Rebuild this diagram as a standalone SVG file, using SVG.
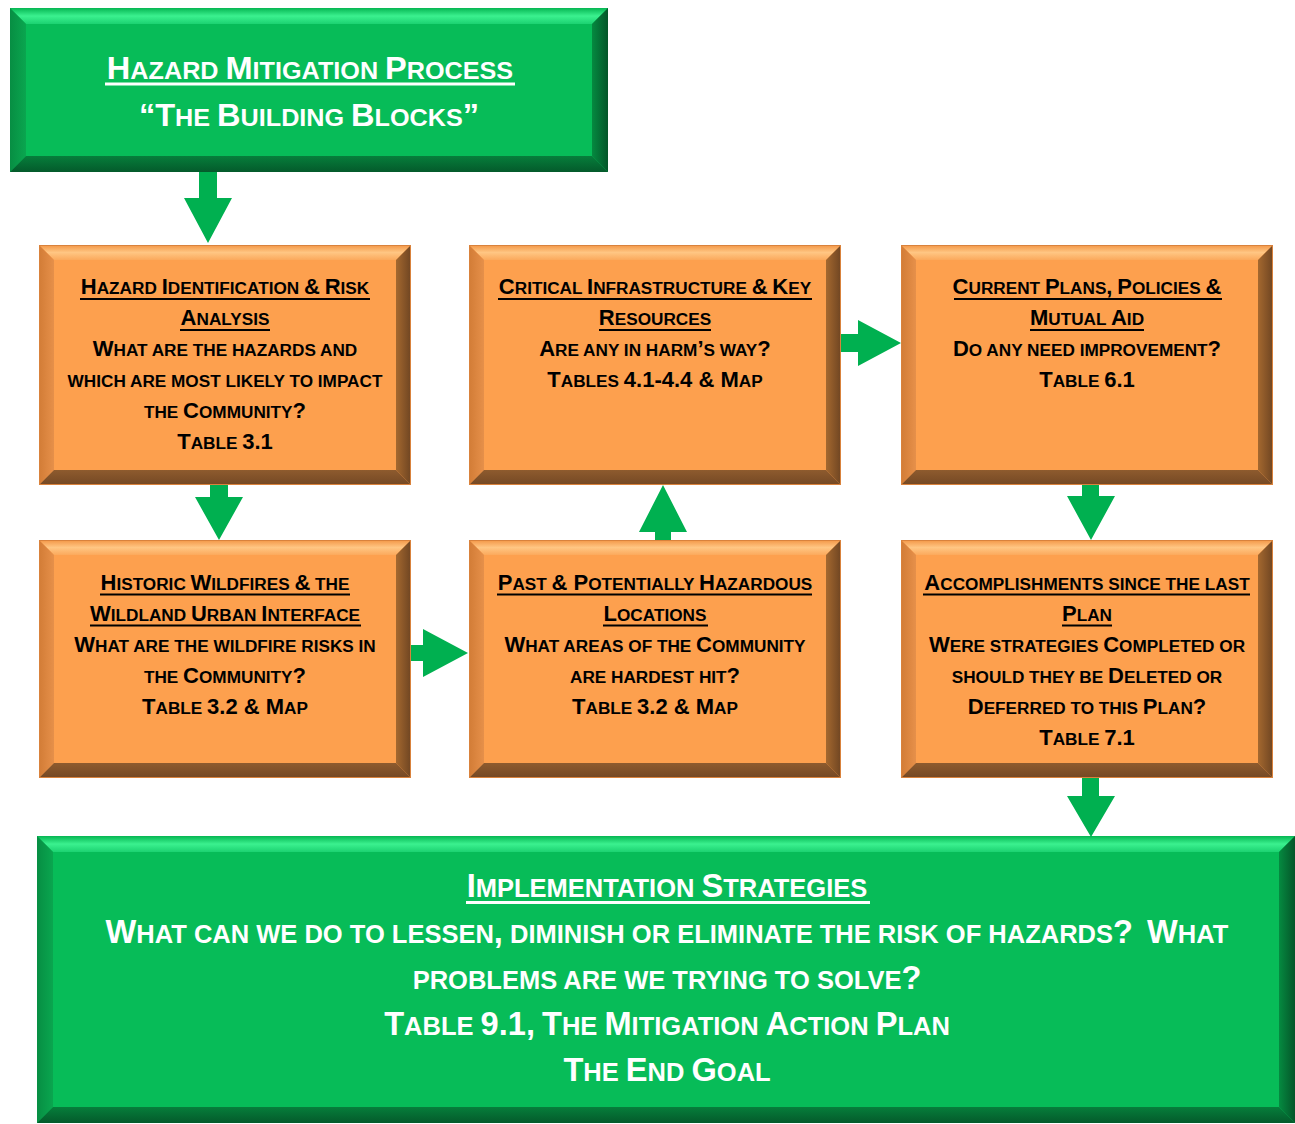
<svg xmlns="http://www.w3.org/2000/svg" width="1295" height="1124" viewBox="0 0 1295 1124">
<defs>
<linearGradient id="oTop" x1="0" y1="0" x2="0" y2="1"><stop offset="0" stop-color="#F39646"/><stop offset="0.5" stop-color="#FFC683"/><stop offset="1" stop-color="#FBA95C"/></linearGradient>
<linearGradient id="oRight" x1="0" y1="0" x2="1" y2="0"><stop offset="0" stop-color="#A4682F"/><stop offset="1" stop-color="#6F4522"/></linearGradient>
<linearGradient id="oBot" x1="0" y1="0" x2="0" y2="1"><stop offset="0" stop-color="#8E5B2E"/><stop offset="1" stop-color="#744824"/></linearGradient>
<linearGradient id="oLeft" x1="0" y1="0" x2="1" y2="0"><stop offset="0" stop-color="#D27C36"/><stop offset="1" stop-color="#E6904A"/></linearGradient>
<linearGradient id="gTop" x1="0" y1="0" x2="0" y2="1"><stop offset="0" stop-color="#06B653"/><stop offset="0.5" stop-color="#3BF18F"/><stop offset="1" stop-color="#1CD271"/></linearGradient>
<linearGradient id="gRight" x1="0" y1="0" x2="1" y2="0"><stop offset="0" stop-color="#058A40"/><stop offset="1" stop-color="#045529"/></linearGradient>
<linearGradient id="gBot" x1="0" y1="0" x2="0" y2="1"><stop offset="0" stop-color="#067E3B"/><stop offset="1" stop-color="#045A2B"/></linearGradient>
<linearGradient id="gLeft" x1="0" y1="0" x2="1" y2="0"><stop offset="0" stop-color="#078E43"/><stop offset="1" stop-color="#0AA64F"/></linearGradient>
</defs>
<style>
.of{fill:#FDA04E}
.ot{fill:url(#oTop)}
.ol{fill:url(#oLeft)}
.or{fill:url(#oRight)}
.ob{fill:url(#oBot)}
.oedge{fill:none;stroke:#D9823C;stroke-width:1}
.gf{fill:#07BC58}
.gt{fill:url(#gTop)}
.gl{fill:url(#gLeft)}
.gr{fill:url(#gRight)}
.gb{fill:url(#gBot)}
.arrow{fill:#00B050}
.ulb{fill:#000}
.ulw{fill:#fff}
text{font-family:"Liberation Sans",Arial,sans-serif;font-weight:bold;text-anchor:middle}
.btxt{fill:#000;font-size:17.2px}
.btxt .c{font-size:22px}
.wtxt{fill:#fff;font-size:25.5px}
.wtxt .c{font-size:32.6px}
.ttxt{fill:#fff;font-size:24px}
.ttxt .c{font-size:31px}
</style>

<g id="title">
<rect class="gf" x="10" y="8" width="598" height="164"/>
<polygon class="gt" points="10,8 608,8 592,24 26,24"/>
<polygon class="gl" points="10,8 26,24 26,156 10,172"/>
<polygon class="gr" points="608,8 608,172 592,156 592,24"/>
<polygon class="gb" points="10,172 608,172 592,156 26,156"/>
<text class="ttxt" transform="translate(310,79) scale(1.05,1)" x="0" y="0"><tspan class="c">H</tspan>AZARD <tspan class="c">M</tspan>ITIGATION <tspan class="c">P</tspan>ROCESS</text>
<rect class="ulw" x="105" y="82.5" width="410" height="3"/>
<text class="ttxt" transform="translate(309,126) scale(1.05,1)" x="0" y="0"><tspan class="c">“T</tspan>HE <tspan class="c">B</tspan>UILDING <tspan class="c">B</tspan>LOCKS<tspan class="c">”</tspan></text>
</g>

<g id="hazard-identification">
<rect class="of" x="39" y="245" width="372" height="240"/>
<polygon class="ot" points="39,245 411,245 396,260 54,260"/>
<polygon class="ol" points="39,245 54,260 54,470 39,485"/>
<polygon class="or" points="411,245 411,485 396,470 396,260"/>
<polygon class="ob" points="39,485 411,485 396,470 54,470"/>
<rect class="oedge" x="39.5" y="245.5" width="371" height="239"/>
<text class="btxt" x="225" y="294"><tspan class="c">H</tspan>AZARD <tspan class="c">I</tspan>DENTIFICATION <tspan class="c">&amp;</tspan> <tspan class="c">R</tspan>ISK</text>
<rect class="ulb" x="80" y="298" width="290" height="2"/>
<text class="btxt" x="225" y="325"><tspan class="c">A</tspan>NALYSIS</text>
<rect class="ulb" x="180" y="329" width="90" height="2"/>
<text class="btxt" x="225" y="356"><tspan class="c">W</tspan>HAT ARE THE HAZARDS AND</text>
<text class="btxt" x="225" y="387">WHICH ARE MOST LIKELY TO IMPACT</text>
<text class="btxt" x="225" y="418">THE <tspan class="c">C</tspan>OMMUNITY<tspan class="c">?</tspan></text>
<text class="btxt" x="225" y="449"><tspan class="c">T</tspan>ABLE <tspan class="c">3.1</tspan></text>
</g>

<g id="critical-infrastructure">
<rect class="of" x="469" y="245" width="372" height="240"/>
<polygon class="ot" points="469,245 841,245 826,260 484,260"/>
<polygon class="ol" points="469,245 484,260 484,470 469,485"/>
<polygon class="or" points="841,245 841,485 826,470 826,260"/>
<polygon class="ob" points="469,485 841,485 826,470 484,470"/>
<rect class="oedge" x="469.5" y="245.5" width="371" height="239"/>
<text class="btxt" x="655" y="294"><tspan class="c">C</tspan>RITICAL <tspan class="c">I</tspan>NFRASTRUCTURE <tspan class="c">&amp;</tspan> <tspan class="c">K</tspan>EY</text>
<rect class="ulb" x="498" y="298" width="314" height="2"/>
<text class="btxt" x="655" y="325"><tspan class="c">R</tspan>ESOURCES</text>
<rect class="ulb" x="599" y="329" width="112" height="2"/>
<text class="btxt" x="655" y="356"><tspan class="c">A</tspan>RE ANY IN HARM<tspan class="c">’</tspan>S WAY<tspan class="c">?</tspan></text>
<text class="btxt" x="655" y="387"><tspan class="c">T</tspan>ABLES <tspan class="c">4.1-4.4 &amp; M</tspan>AP</text>
</g>

<g id="current-plans">
<rect class="of" x="901" y="245" width="372" height="240"/>
<polygon class="ot" points="901,245 1273,245 1258,260 916,260"/>
<polygon class="ol" points="901,245 916,260 916,470 901,485"/>
<polygon class="or" points="1273,245 1273,485 1258,470 1258,260"/>
<polygon class="ob" points="901,485 1273,485 1258,470 916,470"/>
<rect class="oedge" x="901.5" y="245.5" width="371" height="239"/>
<text class="btxt" x="1087" y="294"><tspan class="c">C</tspan>URRENT <tspan class="c">P</tspan>LANS<tspan class="c">,</tspan> <tspan class="c">P</tspan>OLICIES <tspan class="c">&amp;</tspan></text>
<rect class="ulb" x="954" y="298" width="268" height="2"/>
<text class="btxt" x="1087" y="325"><tspan class="c">M</tspan>UTUAL <tspan class="c">A</tspan>ID</text>
<rect class="ulb" x="1030" y="329" width="114" height="2"/>
<text class="btxt" x="1087" y="356"><tspan class="c">D</tspan>O ANY NEED IMPROVEMENT<tspan class="c">?</tspan></text>
<text class="btxt" x="1087" y="387"><tspan class="c">T</tspan>ABLE <tspan class="c">6.1</tspan></text>
</g>

<g id="historic-wildfires">
<rect class="of" x="39" y="540" width="372" height="238"/>
<polygon class="ot" points="39,540 411,540 396,555 54,555"/>
<polygon class="ol" points="39,540 54,555 54,763 39,778"/>
<polygon class="or" points="411,540 411,778 396,763 396,555"/>
<polygon class="ob" points="39,778 411,778 396,763 54,763"/>
<rect class="oedge" x="39.5" y="540.5" width="371" height="237"/>
<text class="btxt" x="225" y="590"><tspan class="c">H</tspan>ISTORIC <tspan class="c">W</tspan>ILDFIRES <tspan class="c">&amp;</tspan> THE</text>
<rect class="ulb" x="100" y="593.5" width="250" height="2"/>
<text class="btxt" x="225" y="621"><tspan class="c">W</tspan>ILDLAND <tspan class="c">U</tspan>RBAN <tspan class="c">I</tspan>NTERFACE</text>
<rect class="ulb" x="90" y="624.5" width="271" height="2"/>
<text class="btxt" x="225" y="652"><tspan class="c">W</tspan>HAT ARE THE WILDFIRE RISKS IN</text>
<text class="btxt" x="225" y="683">THE <tspan class="c">C</tspan>OMMUNITY<tspan class="c">?</tspan></text>
<text class="btxt" x="225" y="714"><tspan class="c">T</tspan>ABLE <tspan class="c">3.2 &amp; M</tspan>AP</text>
</g>

<g id="past-hazardous-locations">
<rect class="of" x="469" y="540" width="372" height="238"/>
<polygon class="ot" points="469,540 841,540 826,555 484,555"/>
<polygon class="ol" points="469,540 484,555 484,763 469,778"/>
<polygon class="or" points="841,540 841,778 826,763 826,555"/>
<polygon class="ob" points="469,778 841,778 826,763 484,763"/>
<rect class="oedge" x="469.5" y="540.5" width="371" height="237"/>
<text class="btxt" x="655" y="590"><tspan class="c">P</tspan>AST <tspan class="c">&amp; P</tspan>OTENTIALLY <tspan class="c">H</tspan>AZARDOUS</text>
<rect class="ulb" x="497" y="593.5" width="315" height="2"/>
<text class="btxt" x="655" y="621"><tspan class="c">L</tspan>OCATIONS</text>
<rect class="ulb" x="603" y="624.5" width="105" height="2"/>
<text class="btxt" x="655" y="652"><tspan class="c">W</tspan>HAT AREAS OF THE <tspan class="c">C</tspan>OMMUNITY</text>
<text class="btxt" x="655" y="683">ARE HARDEST HIT<tspan class="c">?</tspan></text>
<text class="btxt" x="655" y="714"><tspan class="c">T</tspan>ABLE <tspan class="c">3.2 &amp; M</tspan>AP</text>
</g>

<g id="accomplishments">
<rect class="of" x="901" y="540" width="372" height="238"/>
<polygon class="ot" points="901,540 1273,540 1258,555 916,555"/>
<polygon class="ol" points="901,540 916,555 916,763 901,778"/>
<polygon class="or" points="1273,540 1273,778 1258,763 1258,555"/>
<polygon class="ob" points="901,778 1273,778 1258,763 916,763"/>
<rect class="oedge" x="901.5" y="540.5" width="371" height="237"/>
<text class="btxt" x="1087" y="590"><tspan class="c">A</tspan>CCOMPLISHMENTS SINCE THE LAST</text>
<rect class="ulb" x="923" y="593.5" width="327" height="2"/>
<text class="btxt" x="1087" y="621"><tspan class="c">P</tspan>LAN</text>
<rect class="ulb" x="1062" y="624.5" width="50" height="2"/>
<text class="btxt" x="1087" y="652"><tspan class="c">W</tspan>ERE STRATEGIES <tspan class="c">C</tspan>OMPLETED OR</text>
<text class="btxt" x="1087" y="683">SHOULD THEY BE <tspan class="c">D</tspan>ELETED OR</text>
<text class="btxt" x="1087" y="714"><tspan class="c">D</tspan>EFERRED TO THIS <tspan class="c">P</tspan>LAN<tspan class="c">?</tspan></text>
<text class="btxt" x="1087" y="745"><tspan class="c">T</tspan>ABLE <tspan class="c">7.1</tspan></text>
</g>

<g id="implementation-strategies">
<rect class="gf" x="37" y="836" width="1258" height="287"/>
<polygon class="gt" points="37,836 1295,836 1279,852 53,852"/>
<polygon class="gl" points="37,836 53,852 53,1107 37,1123"/>
<polygon class="gr" points="1295,836 1295,1123 1279,1107 1279,852"/>
<polygon class="gb" points="37,1123 1295,1123 1279,1107 53,1107"/>
<text class="wtxt" x="667" y="897"><tspan class="c">I</tspan>MPLEMENTATION <tspan class="c">S</tspan>TRATEGIES</text>
<rect class="ulw" x="466" y="901" width="404" height="3"/>
<text class="wtxt" x="667" y="943"><tspan class="c">W</tspan>HAT CAN WE DO TO LESSEN<tspan class="c">,</tspan> DIMINISH OR ELIMINATE THE RISK OF HAZARDS<tspan class="c">?</tspan>&#160; <tspan class="c">W</tspan>HAT</text>
<text class="wtxt" x="667" y="989">PROBLEMS ARE WE TRYING TO SOLVE<tspan class="c">?</tspan></text>
<text class="wtxt" x="667" y="1035"><tspan class="c">T</tspan>ABLE <tspan class="c">9.1,</tspan> <tspan class="c">T</tspan>HE <tspan class="c">M</tspan>ITIGATION <tspan class="c">A</tspan>CTION <tspan class="c">P</tspan>LAN</text>
<text class="wtxt" x="667" y="1081"><tspan class="c">T</tspan>HE <tspan class="c">E</tspan>ND <tspan class="c">G</tspan>OAL</text>
</g>

<g id="connectors">
<polygon class="arrow" points="199,172 217,172 217,198 232,198 208,243 184,198 199,198"/>
<polygon class="arrow" points="210,485 228,485 228,497 243,497 219,540 195,497 210,497"/>
<polygon class="arrow" points="411,645 423,645 423,629 468,653 423,677 423,661 411,661"/>
<polygon class="arrow" points="663,485 687,532 671,532 671,540 655,540 655,532 639,532"/>
<polygon class="arrow" points="841,334 858,334 858,320 901,343 858,366 858,352 841,352"/>
<polygon class="arrow" points="1082,485 1099,485 1099,496 1115,496 1091,540 1067,496 1082,496"/>
<polygon class="arrow" points="1082,778 1099,778 1099,796 1115,796 1091,837 1067,796 1082,796"/>
</g>
</svg>
